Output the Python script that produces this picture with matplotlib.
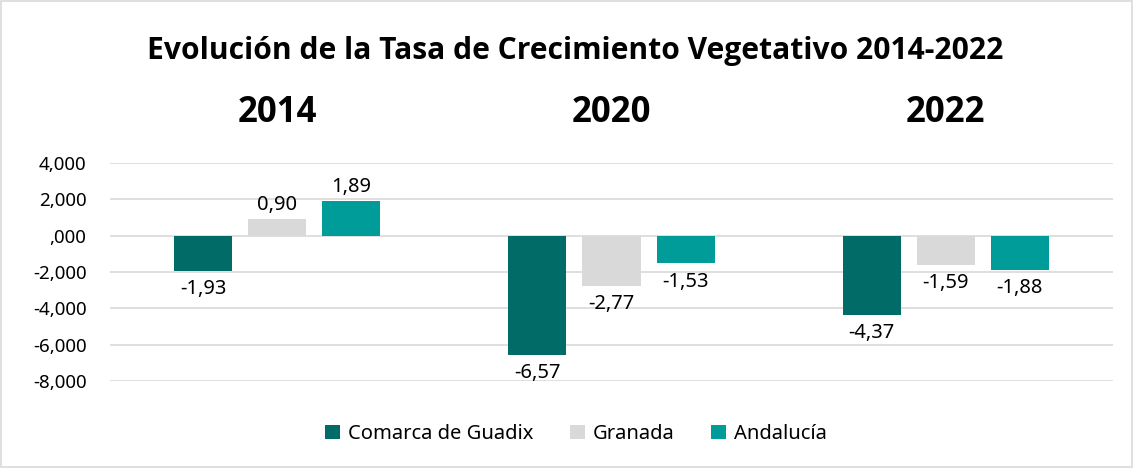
import matplotlib
matplotlib.use("Agg")
import matplotlib.pyplot as plt
import numpy as np

years = ["2014", "2020", "2022"]
series = ["Comarca de Guadix", "Granada", "Andalucía"]
guadix = [-1.93, -6.57, -4.37]
granada = [0.90, -2.77, -1.59]
andalucia = [1.89, -1.53, -1.88]
yticks = [4, 2, 0, -2, -4, -6, -8]
colors = ["#006b67", "#d9d9d9", "#009c99"]

plt.rcParams["font.family"] = ["Noto Sans", "DejaVu Sans"]
BOLD = ["Open Sans", "Lato", "DejaVu Sans"]

def fmt(v, nd):
    s = f"{v:.{nd}f}".replace(".", ",")
    if s.startswith("0,"):
        s = s[1:]
    return s

fig = plt.figure(figsize=(11.34, 4.68), dpi=100)
ax = fig.add_axes([110 / 1134, 87 / 468, 1003 / 1134, 218 / 468])
x = np.arange(len(years))
w = 0.174
step = 0.2216
for i, (name, vals) in enumerate(zip(series, [guadix, granada, andalucia])):
    bars = ax.bar(x + (i - 1) * step, vals, w, color=colors[i], label=name, zorder=3)
    for b, v in zip(bars, vals):
        cx = b.get_x() + b.get_width() / 2
        lab = f"{v:.2f}".replace(".", ",")
        if v >= 0:
            ax.annotate(lab, (cx, v), xytext=(0, 3), textcoords="offset points",
                        ha="center", va="bottom", fontsize=14.5)
        else:
            ax.annotate(lab, (cx, v), xytext=(0, -6), textcoords="offset points",
                        ha="center", va="top", fontsize=14.5)

ax.set_xlim(-0.5, 2.5)
ax.set_ylim(-8, 4)
ax.set_yticks(yticks)
ax.set_yticklabels([fmt(t, 3) for t in yticks], fontsize=13.5)
ax.set_xticks(x)
ax.set_xticklabels(years, fontsize=25, fontweight="bold", family=BOLD)
ax.xaxis.tick_top()
ax.tick_params(axis="x", length=0, pad=23)
ax.tick_params(axis="y", length=0, pad=17)
ax.grid(axis="y", color="#d9d9d9", lw=1.2, zorder=0)
for s in ax.spines.values():
    s.set_visible(False)

fig.text(0.507, 1 - 51 / 468, "Evolución de la Tasa de Crecimiento Vegetativo 2014-2022",
         ha="center", va="center", fontsize=21.6, fontweight="bold", family=BOLD)
fig.legend(loc="center", bbox_to_anchor=(0.508, 1 - 434 / 468), ncol=3, frameon=False,
           fontsize=14.5, handlelength=0.75, handleheight=0.75, columnspacing=1.8, handletextpad=0.4)
fig.patches.append(plt.Rectangle((0.001, 0.002), 0.997, 0.996, transform=fig.transFigure,
                                 fill=False, edgecolor="#d9d9d9", lw=1.2))
fig.savefig("out.png", dpi=100)
